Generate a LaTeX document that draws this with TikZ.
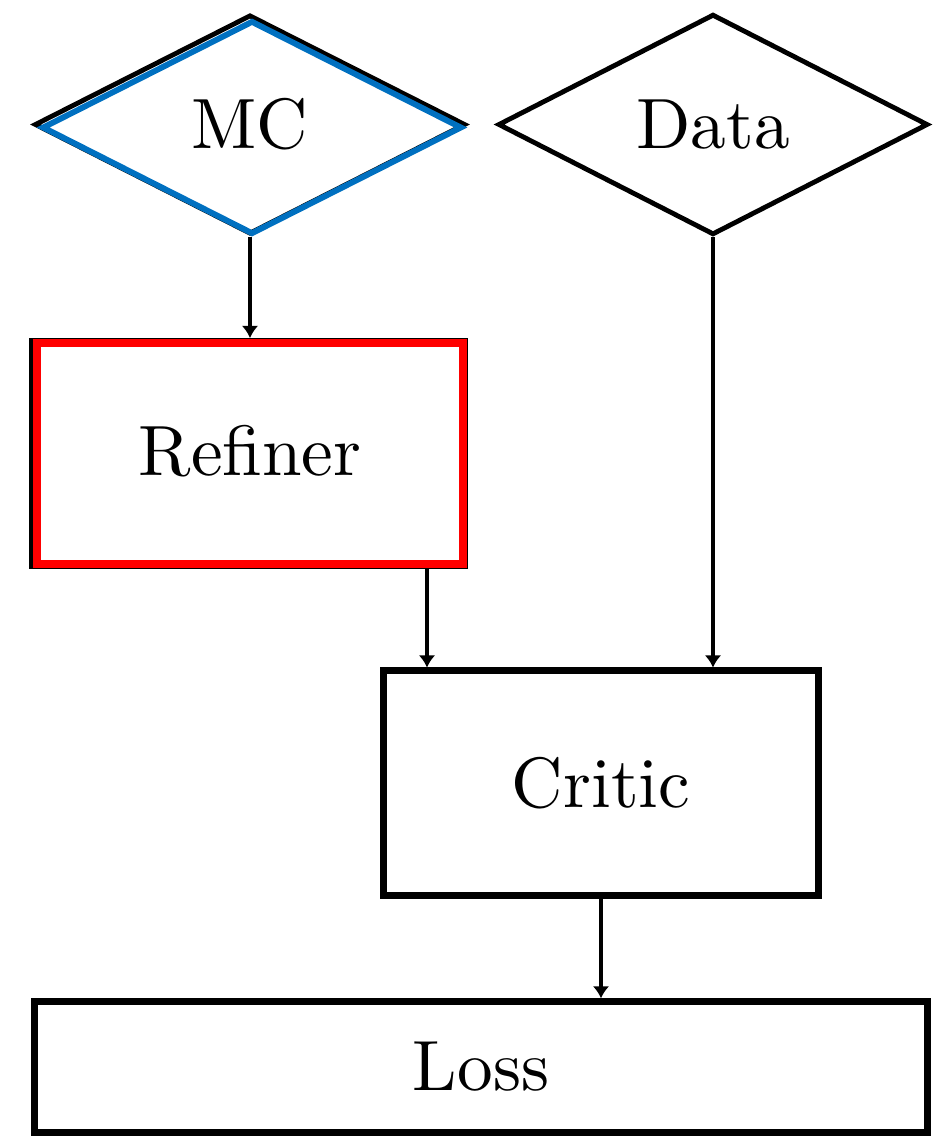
\documentclass[tikz,border=0pt]{standalone}
\usepackage{fontspec}
\usetikzlibrary{shapes.geometric,arrows.meta}
\definecolor{mcblue}{RGB}{0,112,192}
\begin{document}
\begin{tikzpicture}[x=0.145pt,y=-0.145pt,
  every node/.style={font=\fontsize{10.33}{12}\selectfont},
  dia/.style={diamond, draw, inner sep=0pt, line width=0.7pt},
  box/.style={rectangle, draw, inner sep=0pt},
  arr/.style={-{Latex[length=1.75pt,width=2.4pt]}, line width=0.5pt}]
\useasboundingbox (0,0) rectangle (944,1136);
% MC diamond (black) with blue outline over it
\node[dia, minimum width=62.5pt, minimum height=31.8pt] (mc) at (250,124.5) {MC};
\node[dia, draw=mcblue, line width=0.85pt, minimum width=60.9pt, minimum height=31pt] (mcring) at (252,127.5) {};
% Data diamond
\node[dia, minimum width=62.35pt, minimum height=32pt] (data) at (713,124.5) {Data};
% Refiner box (black) with red outline over it
\node[box, line width=0.6pt, minimum width=63.1pt, minimum height=32.9pt] (ref) at (248.5,453.5) {};
\node[box, draw=red, line width=1.2pt, minimum width=61.8pt, minimum height=32.0pt] (refring) at (250,453.5) {};
\node (reftext) at (250,451) {Refiner};
% Critic
\node[box, line width=1pt, minimum width=63.1pt, minimum height=32.5pt] (critic) at (601,783) {Critic};
% Loss
\node[box, line width=1pt, minimum width=129.6pt, minimum height=18.9pt] (loss) at (481,1067) {Loss};
% connectors
\coordinate (c1) at (427,0);
\draw[arr] (mc.south) -- (mc.south |- ref.north);
\draw[arr] (c1 |- ref.south) -- (c1 |- critic.north);
\draw[arr] (data.south) -- (data.south |- critic.north);
\draw[arr] (critic.south) -- (critic.south |- loss.north);
\end{tikzpicture}
\end{document}
